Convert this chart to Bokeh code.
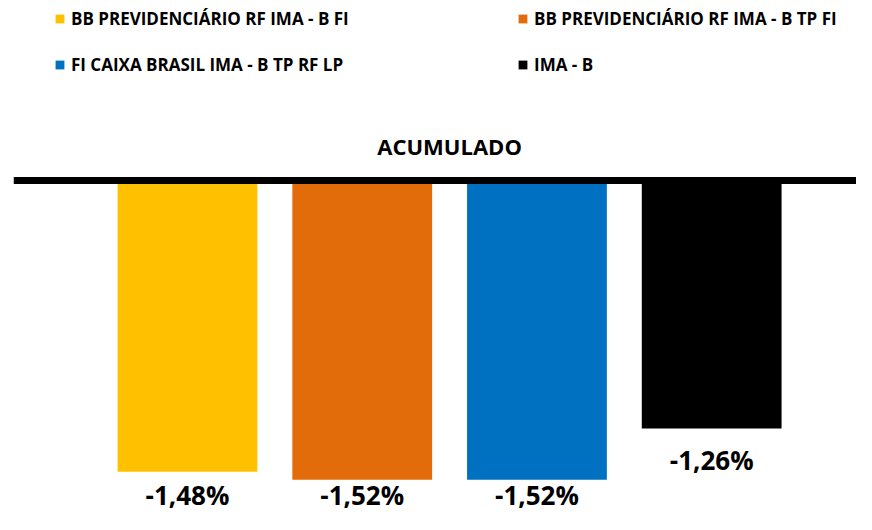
import numpy as np
from bokeh.plotting import figure
from bokeh.models import ColumnDataSource, Range1d, Span, Label
from bokeh.embed import file_html
from bokeh.resources import INLINE
from bokeh.core.properties import value

# ---- data ----
names = ["BB PREVIDENCIÁRIO RF IMA - B FI",
         "BB PREVIDENCIÁRIO RF IMA - B TP FI",
         "FI CAIXA BRASIL IMA - B TP RF LP",
         "IMA - B"]
values = [-1.48, -1.52, -1.52, -1.26]
colors = ["#FFC000", "#E36C0A", "#0070C0", "#000000"]
title_text = "ACUMULADO"

vals = np.array(values)
labels = [f"{v:.2f}".replace(".", ",") + "%" for v in values]
xs = np.arange(len(names))
label_y = np.maximum(vals - 0.16, -1.598)

src = ColumnDataSource(dict(x=xs, top=vals, name=names, color=colors,
                            label=labels, ly=label_y))

p = figure(width=856, height=514, output_backend="svg", toolbar_location=None,
           x_range=Range1d(-0.9958, 3.8288), y_range=Range1d(-1.6971, 0.9138),
           min_border_left=13, min_border_right=0, min_border_top=0, min_border_bottom=0)
p.axis.visible = False
p.grid.visible = False
p.outline_line_color = None

p.vbar(x="x", top="top", bottom=0, width=0.8, fill_color="color", line_color=None,
       source=src, legend_field="name")

p.add_layout(Span(location=0, dimension="width", line_color="black", line_width=7))

p.text(x="x", y="ly", text="label", source=src, text_font=value("Open Sans"),
       text_font_style="bold", text_font_size="26px", text_align="center",
       text_baseline="middle", text_color="black")

p.add_layout(Label(x=1.5, y=0.1747, text=title_text, text_font="Open Sans",
                   text_font_style="bold", text_font_size="22px", text_align="center",
                   text_baseline="middle", text_color="black"))

lg = p.legend[0]
lg.orientation = "horizontal"
lg.ncols = 2
lg.location = (41, 438)
lg.border_line_color = None
lg.background_fill_alpha = 0
lg.padding = 0
lg.margin = 0
lg.spacing = 23
lg.glyph_width = 11
lg.glyph_height = 11
lg.label_standoff = 6
lg.label_height = 20
lg.label_width = 423
lg.label_text_font = "Open Sans"
lg.label_text_font_style = "bold"
lg.label_text_font_size = "17px"
lg.label_text_color = "black"

open("out.html", "w").write(file_html(p, INLINE))
